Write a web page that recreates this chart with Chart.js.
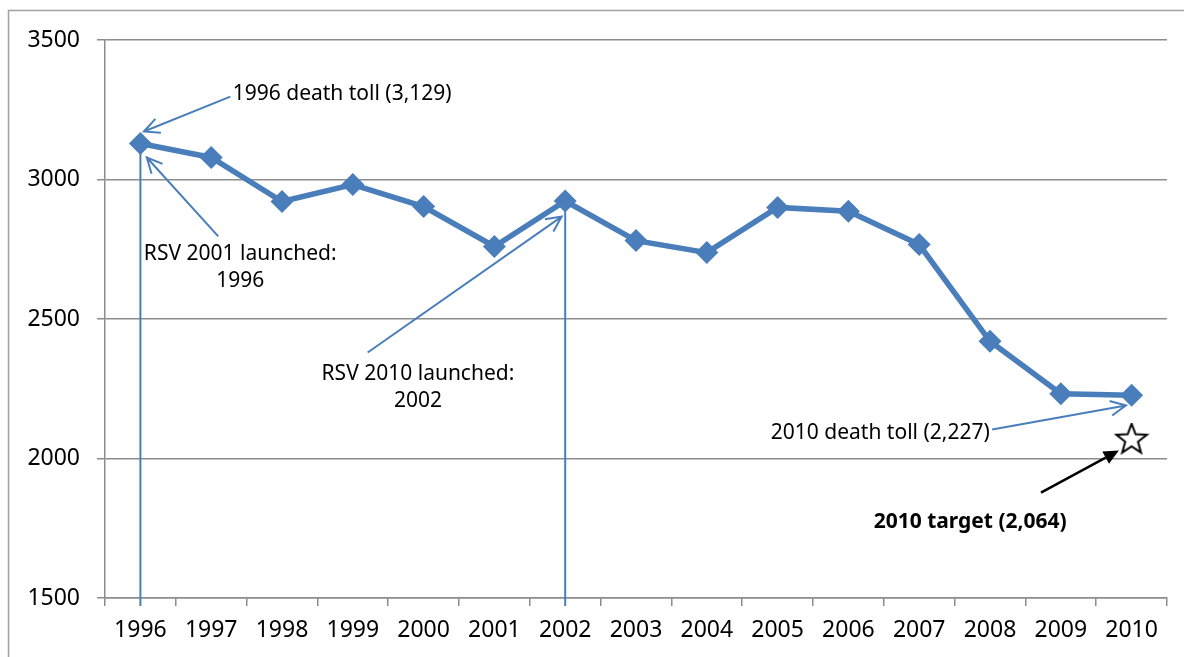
<!DOCTYPE html>
<html>
<head>
<meta charset="utf-8">
<script src="https://cdn.jsdelivr.net/npm/chart.js@4/dist/chart.umd.min.js"></script>
<style>
    html, body { margin: 0; padding: 0; background: #fff; }
    #wrap { width: 1184px; height: 657px; position: relative; }
</style>
</head>
<body>
<div id="wrap"><canvas id="tollChart"></canvas></div>
<script>
// Road deaths per year
const years = ['1996', '1997', '1998', '1999', '2000', '2001', '2002', '2003', '2004', '2005', '2006', '2007', '2008', '2009', '2010'];
const deaths = [3129, 3079, 2921, 2982, 2903, 2760, 2923, 2781, 2738, 2900, 2886, 2767, 2420, 2232, 2227];
const target = [null, null, null, null, null, null, null, null, null, null, null, null, null, null, 2064];
const yTicks = [1500, 2000, 2500, 3000, 3500];

// launch markers (index into years)
const launchIdx = [0, 6];

// annotation texts: [xIndex, value] in data space
const notes = [
    { at: [2.85, 3305], lines: ['1996 death toll (3,129)'] },
    { at: [1.41, 2683], lines: ['RSV 2001 launched:', '1996'] },
    { at: [3.92, 2256], lines: ['RSV 2010 launched:', '2002'] },
    { at: [10.45, 2093], lines: ['2010 death toll (2,227)'] },
    { at: [11.72, 1771], lines: ['2010 target (2,064)'], bold: true }
];
const arrows = [
    { from: [1.27, 3297], to: [0.05, 3172] },
    { from: [1.10, 2796], to: [0.09, 3079] },
    { from: [3.21, 2380], to: [5.95, 2867] },
    { from: [12.03, 2104], to: [13.92, 2190] },
    { from: [12.72, 1878], to: [13.82, 2029], black: true }
];

const blue = '#4a7ebb';
const gridGray = '#8c8c8c';

// hollow star used as point style for the target
function makeStar(R) {
    const c = document.createElement('canvas');
    const s = Math.ceil(R * 2 + 4);
    c.width = s; c.height = s;
    const g = c.getContext('2d');
    const cx = s / 2, cy = s / 2 - 1;
    g.beginPath();
    for (let i = 0; i < 10; i++) {
        const r = i % 2 === 0 ? R : R * 0.42;
        const a = -Math.PI / 2 + i * Math.PI / 5;
        const px = cx + r * Math.cos(a), py = cy + r * Math.sin(a);
        i === 0 ? g.moveTo(px, py) : g.lineTo(px, py);
    }
    g.closePath();
    g.fillStyle = '#fff';
    g.fill();
    g.lineWidth = 2;
    g.strokeStyle = '#000';
    g.stroke();
    return c;
}

function drawArrow(ctx, x1, y1, x2, y2, black) {
    const ang = Math.atan2(y2 - y1, x2 - x1);
    ctx.save();
    ctx.strokeStyle = black ? '#000' : blue;
    ctx.fillStyle = '#000';
    ctx.lineWidth = black ? 2.5 : 2;
    if (black) {
        const len = 15, w = 7;
        const bx = x2 - len * Math.cos(ang), by = y2 - len * Math.sin(ang);
        ctx.beginPath();
        ctx.moveTo(x1, y1);
        ctx.lineTo(bx, by);
        ctx.stroke();
        ctx.beginPath();
        ctx.moveTo(x2, y2);
        ctx.lineTo(bx + w * Math.sin(ang), by - w * Math.cos(ang));
        ctx.lineTo(bx - w * Math.sin(ang), by + w * Math.cos(ang));
        ctx.closePath();
        ctx.fill();
    } else {
        const len = 17, spread = 0.45;
        ctx.beginPath();
        ctx.moveTo(x1, y1);
        ctx.lineTo(x2, y2);
        ctx.moveTo(x2 - len * Math.cos(ang - spread), y2 - len * Math.sin(ang - spread));
        ctx.lineTo(x2, y2);
        ctx.lineTo(x2 - len * Math.cos(ang + spread), y2 - len * Math.sin(ang + spread));
        ctx.stroke();
    }
    ctx.restore();
}

const annotationPlugin = {
    id: 'annotations',
    beforeDraw(chart) {
        // outer chart frame
        const ctx = chart.ctx;
        ctx.save();
        ctx.strokeStyle = '#a0a0a0';
        ctx.lineWidth = 1.5;
        ctx.beginPath();
        ctx.moveTo(8.5, chart.height);
        ctx.lineTo(8.5, 10.5);
        ctx.lineTo(chart.width, 10.5);
        ctx.stroke();
        ctx.restore();
    },
    beforeDatasetsDraw(chart) {
        const ctx = chart.ctx;
        const xs = chart.scales.x, ys = chart.scales.y;
        ctx.save();
        ctx.strokeStyle = blue;
        ctx.lineWidth = 2;
        launchIdx.forEach(i => {
            const x = xs.getPixelForValue(i);
            ctx.beginPath();
            ctx.moveTo(x, ys.getPixelForValue(deaths[i]));
            ctx.lineTo(x, chart.chartArea.bottom + 8);
            ctx.stroke();
        });
        ctx.restore();
    },
    afterDatasetsDraw(chart) {
        const ctx = chart.ctx;
        const xs = chart.scales.x, ys = chart.scales.y;
        arrows.forEach(a => {
            drawArrow(ctx,
                xs.getPixelForValue(a.from[0]), ys.getPixelForValue(a.from[1]),
                xs.getPixelForValue(a.to[0]), ys.getPixelForValue(a.to[1]), a.black);
        });
        ctx.save();
        ctx.fillStyle = '#000';
        ctx.textAlign = 'center';
        ctx.textBaseline = 'middle';
        const lh = 27;
        notes.forEach(n => {
            ctx.font = (n.bold ? 'bold ' : '') + '21px "Noto Sans"';
            const x = xs.getPixelForValue(n.at[0]);
            const y0 = ys.getPixelForValue(n.at[1]) - (n.lines.length - 1) * lh / 2;
            n.lines.forEach((t, k) => ctx.fillText(t, x, y0 + k * lh));
        });
        ctx.restore();
    }
};

const ctx = document.getElementById('tollChart').getContext('2d');
new Chart(ctx, {
    type: 'line',
    data: {
        labels: years,
        datasets: [{
            label: 'Deaths',
            data: deaths,
            borderColor: blue,
            backgroundColor: blue,
            borderWidth: 5.5,
            pointStyle: 'rectRot',
            pointRadius: 11.5,
            pointBorderWidth: 0,
            tension: 0
        }, {
            label: 'Target',
            data: target,
            showLine: false,
            pointStyle: makeStar(16),
            pointRadius: 16
        }]
    },
    options: {
        responsive: true,
        maintainAspectRatio: false,
        animation: false,
        layout: { padding: { left: 8, top: 40, right: 17, bottom: 0 } },
        plugins: {
            legend: { display: false },
            tooltip: { enabled: false }
        },
        scales: {
            x: {
                offset: true,
                grid: {
                    offset: true,
                    drawOnChartArea: false,
                    drawTicks: true,
                    tickLength: 8,
                    color: gridGray,
                    lineWidth: 1.5
                },
                border: { color: gridGray, width: 1.5 },
                ticks: {
                    color: '#000',
                    font: { family: 'Noto Sans', size: 23 },
                    padding: 11,
                    maxRotation: 0
                },
                afterFit: scale => { scale.height = 59; }
            },
            y: {
                min: 1500,
                max: 3500,
                afterBuildTicks: scale => { scale.ticks = yTicks.map(v => ({ value: v })); },
                grid: {
                    color: gridGray,
                    lineWidth: 1.5,
                    tickLength: 8
                },
                border: { color: gridGray, width: 1.5 },
                ticks: {
                    color: '#000',
                    font: { family: 'Noto Sans', size: 23 },
                    padding: 17,
                    callback: v => String(v)
                },
                afterFit: scale => { scale.width = 97; }
            }
        }
    },
    plugins: [annotationPlugin]
});
</script>
</body>
</html>
